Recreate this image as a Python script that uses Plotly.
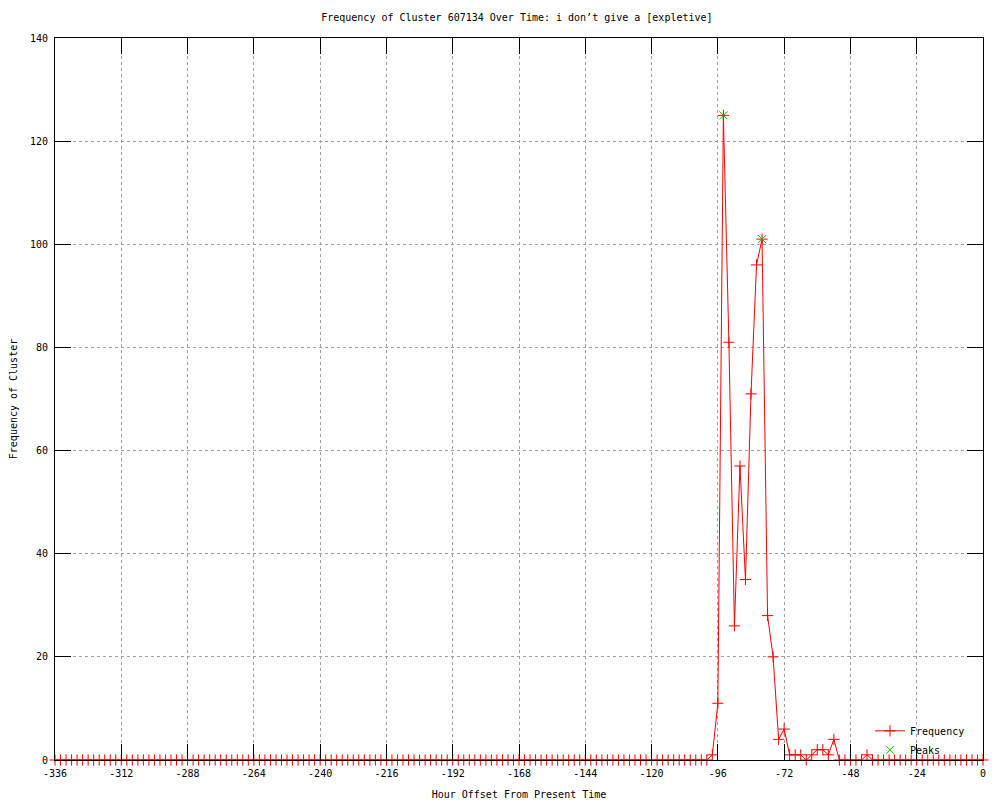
import plotly.graph_objects as go

# Hours offsets (every 2 hours from -336 to 0)
hours = list(range(-336, 1, 2))

# Frequency values (one per hour offset)
frequency = (
    [0, 0, 0, 0, 0, 0, 0, 0, 0, 0, 0, 0, 0, 0, 0, 0, 0, 0, 0, 0,
     0, 0, 0, 0, 0, 0, 0, 0, 0, 0, 0, 0, 0, 0, 0, 0, 0, 0, 0, 0,
     0, 0, 0, 0, 0, 0, 0, 0, 0, 0, 0, 0, 0, 0, 0, 0, 0, 0, 0, 0,
     0, 0, 0, 0, 0, 0, 0, 0, 0, 0, 0, 0, 0, 0, 0, 0, 0, 0, 0, 0,
     0, 0, 0, 0, 0, 0, 0, 0, 0, 0, 0, 0, 0, 0, 0, 0, 0, 0, 0, 0,
     0, 0, 0, 0, 0, 0, 0, 0, 0, 0, 0, 0, 0, 0, 0, 0, 0, 0, 0]
    + [1, 11, 125, 81, 26, 57, 35, 71, 96, 101, 28, 20, 4, 6,
       1, 1, 1, 0, 1, 2, 2, 1, 4, 0, 0, 0, 0, 0, 1]
    + [0, 0, 0, 0, 0, 0, 0, 0, 0, 0, 0, 0, 0, 0, 0, 0, 0, 0, 0, 0, 0]
)

peak_hours = [-94, -80]
peak_values = [125, 101]

x_ticks = [-336, -312, -288, -264, -240, -216, -192, -168, -144, -120, -96, -72, -48, -24, 0]
y_ticks = [0, 20, 40, 60, 80, 100, 120, 140]

FONT = "DejaVu Sans Mono"

fig = go.Figure()
fig.add_trace(go.Scatter(
    x=hours, y=frequency, name="Frequency", mode="lines+markers",
    line=dict(color="#ff0000", width=1),
    marker=dict(symbol="cross-thin", size=8, line=dict(color="#ff0000", width=1), color="#ff0000"),
    cliponaxis=False,
))
fig.add_trace(go.Scatter(
    x=peak_hours, y=peak_values, name="Peaks", mode="markers",
    marker=dict(symbol="x-thin", size=8, line=dict(color="#00c000", width=1), color="#00c000"),
    cliponaxis=False,
))

axis_common = dict(
    showline=True, linecolor="black", linewidth=1, mirror="ticks",
    ticks="inside", ticklen=16, tickcolor="black", tickwidth=1,
    showgrid=True, gridcolor="#a0a0a0", griddash="dot", gridwidth=1,
    zeroline=False, layer="above traces", automargin=False,
    tickfont=dict(family=FONT, size=10, color="black"),
    ticklabelstandoff=4,
)

fig.update_xaxes(
    range=[-336, 0], tickvals=x_ticks, ticktext=[str(v) for v in x_ticks],
    title=dict(text="Hour Offset From Present Time", font=dict(family=FONT, size=10, color="black"), standoff=15),
    **axis_common,
)
fig.update_yaxes(
    range=[0, 140], tickvals=y_ticks,
    title=dict(text="Frequency of Cluster", font=dict(family=FONT, size=10, color="black"), standoff=12),
    **axis_common,
)

fig.update_layout(
    width=992, height=792,
    margin=dict(l=47, r=17, t=30, b=40, autoexpand=False),
    paper_bgcolor="white", plot_bgcolor="white",
    title=dict(text="Frequency of Cluster 607134 Over Time: i don\u2019t give a [expletive]",
               x=0.513, xanchor="center", y=0.9874, yanchor="middle",
               font=dict(family=FONT, size=10, color="black")),
    font=dict(family=FONT, size=10, color="black"),
    showlegend=True,
    legend=dict(x=0.986, y=-0.006, xanchor="right", yanchor="bottom",
                bgcolor="rgba(0,0,0,0)", borderwidth=0,
                font=dict(family=FONT, size=10, color="black"),
                tracegroupgap=0, itemwidth=30),
)

fig.write_html("out.html")
